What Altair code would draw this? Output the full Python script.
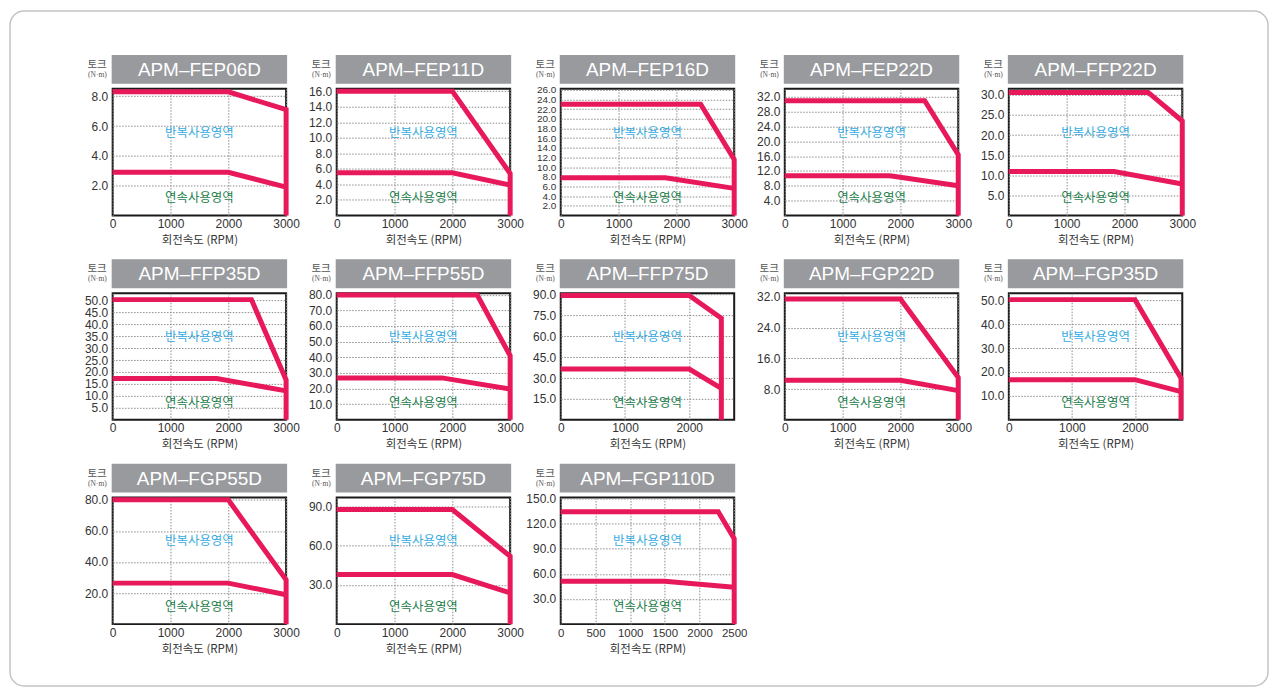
import altair as alt
import pandas as pd

MODELS = ["APM–FEP06D", "APM–FEP11D", "APM–FEP16D", "APM–FEP22D", "APM–FFP22D",
          "APM–FFP35D", "APM–FFP55D", "APM–FFP75D", "APM–FGP22D", "APM–FGP35D",
          "APM–FGP55D", "APM–FGP75D", "APM–FGP110D"]
X_MAX = [3000, 3000, 3000, 3000, 3000, 3000, 3000, 2700, 3000, 2750, 3000, 3000, 2500]
T3 = [0, 1000, 2000, 3000]
T2 = [0, 1000, 2000]
X_TICKS = [T3, T3, T3, T3, T3, T3, T3, T2, T3, T2, T3, T3, [0, 500, 1000, 1500, 2000, 2500]]
Y_MAX = [8.5, 16.3, 26.2, 34.2, 31.5, 53, 81, 91, 33, 53, 81.5, 97, 151]
Y_TICKS = [
    [2, 4, 6, 8],
    [2, 4, 6, 8, 10, 12, 14, 16],
    [2, 4, 6, 8, 10, 12, 14, 16, 18, 20, 22, 24, 26],
    [4, 8, 12, 16, 20, 24, 28, 32],
    [5, 10, 15, 20, 25, 30],
    [5, 10, 15, 20, 25, 30, 35, 40, 45, 50],
    [10, 20, 30, 40, 50, 60, 70, 80],
    [15, 30, 45, 60, 75, 90],
    [8, 16, 24, 32],
    [10, 20, 30, 40, 50],
    [20, 40, 60, 80],
    [30, 60, 90],
    [30, 60, 90, 120, 150],
]
MAX_SPEED = [3000, 3000, 3000, 3000, 3000, 3000, 3000, 2500, 3000, 2730, 3000, 3000, 2500]
PEAK_TORQUE = [8.3, 16.0, 23.0, 31.0, 30.6, 50.3, 79.8, 89.4, 31.5, 50.3, 80.0, 87.8, 134]
PEAK_KNEE = [2000, 2000, 2420, 2420, 2410, 2400, 2430, 2000, 2000, 2000, 2000, 2000, 2270]
PEAK_END = [7.1, 5.4, 11.6, 16.4, 23.5, 16.6, 41, 73, 11, 17.4, 28.5, 52, 102]
CONT_TORQUE = [2.9, 5.5, 7.8, 10.7, 10.9, 17.3, 26.8, 36.5, 10.3, 16.8, 26.4, 38, 51.2]
CONT_KNEE = [2000, 2000, 1810, 1820, 1820, 1800, 1820, 2000, 2000, 2000, 2000, 2000, 1500]
CONT_END = [1.9, 3.9, 5.6, 8.0, 7.8, 12.1, 19.6, 22.5, 7.6, 11.8, 18.9, 24, 44]

X_TITLE = "회전속도 (RPM)"
UNIT_1 = "토크"
UNIT_2 = "(N·m)"
ZONE_PEAK = "반복사용영역"
ZONE_CONT = "연속사용영역"

PINK = "#E8195B"
GRAY = "#989A9E"
BLUE = "#36ACE2"
GREEN = "#24804E"
KR = "Noto Sans CJK KR"
LAT = "Liberation Sans"

W, H = 174, 127


def one(txt):
    return pd.DataFrame({"t": [txt]})


def panel(i):
    ms = MAX_SPEED[i]
    rows = [
        {"curve": "peak", "o": 0, "rpm": 0, "torque": PEAK_TORQUE[i]},
        {"curve": "peak", "o": 1, "rpm": PEAK_KNEE[i], "torque": PEAK_TORQUE[i]},
        {"curve": "peak", "o": 2, "rpm": ms, "torque": PEAK_END[i]},
        {"curve": "peak", "o": 3, "rpm": ms, "torque": 0},
        {"curve": "cont", "o": 0, "rpm": 0, "torque": CONT_TORQUE[i]},
        {"curve": "cont", "o": 1, "rpm": CONT_KNEE[i], "torque": CONT_TORQUE[i]},
        {"curve": "cont", "o": 2, "rpm": ms, "torque": CONT_END[i]},
    ]
    df = pd.DataFrame(rows)
    ylab = 10 if len(Y_TICKS[i]) > 10 else 12
    xlab = 11.5 if len(X_TICKS[i]) > 4 else 12
    lines = alt.Chart(df).mark_line(
        color=PINK, strokeWidth=5, strokeJoin="miter", strokeCap="butt"
    ).encode(
        x=alt.X("rpm:Q", scale=alt.Scale(domain=[0, X_MAX[i]], nice=False),
                axis=alt.Axis(values=X_TICKS[i], format="d", title=X_TITLE,
                              labelFlush=False, labelOverlap=False, ticks=False, domain=False,
                              grid=True, gridDash=[1.5, 1.5], gridColor="#8c8c8c", gridWidth=1,
                              labelFont=LAT, labelFontSize=xlab, labelColor="#333333", labelPadding=3,
                              titleFont=KR, titleFontSize=11.5, titleFontWeight="normal",
                              titleColor="#333333", titlePadding=5)),
        y=alt.Y("torque:Q", scale=alt.Scale(domain=[0, Y_MAX[i]], nice=False),
                axis=alt.Axis(values=Y_TICKS[i], format=".1f", title=None,
                              labelOverlap=False, ticks=False, domain=False,
                              grid=True, gridDash=[1.5, 1.5], gridColor="#8c8c8c", gridWidth=1,
                              labelFont=LAT, labelFontSize=ylab, labelColor="#333333", labelPadding=5)),
        detail="curve:N",
        order="o:Q",
    )
    box = alt.Chart(one(MODELS[i])).mark_rect(color=GRAY).encode(
        x=alt.value(-1), x2=alt.value(W + 1), y=alt.value(-34), y2=alt.value(-5))
    name = alt.Chart(one(MODELS[i])).mark_text(
        color="white", font=LAT, fontSize=19, align="center", baseline="middle"
    ).encode(x=alt.value(W / 2), y=alt.value(-19), text="t:N")
    u1 = alt.Chart(one(UNIT_1)).mark_text(
        color="#555555", font=KR, fontSize=10.5, align="right", baseline="middle"
    ).encode(x=alt.value(-6), y=alt.value(-24), text="t:N")
    u2 = alt.Chart(one(UNIT_2)).mark_text(
        color="#555555", font="Liberation Serif", fontSize=7.5, align="right", baseline="middle"
    ).encode(x=alt.value(-6), y=alt.value(-14), text="t:N")
    z1 = alt.Chart(one(ZONE_PEAK)).mark_text(
        color=BLUE, font=KR, fontSize=12.5, align="center", baseline="middle"
    ).encode(x=alt.value(W / 2), y=alt.value(44), text="t:N")
    z2 = alt.Chart(one(ZONE_CONT)).mark_text(
        color=GREEN, font=KR, fontSize=12.5, align="center", baseline="middle"
    ).encode(x=alt.value(W / 2), y=alt.value(110), text="t:N")
    layers = [box, name, u1, u2, z1, z2, lines]
    if i == 0:
        frame = alt.Chart(one("")).mark_rect(
            fillOpacity=0, stroke="#C4C4C4", strokeWidth=1.5, cornerRadius=14
        ).encode(x=alt.value(-103), x2=alt.value(1159), y=alt.value(-78), y2=alt.value(599))
        layers.insert(0, frame)
    return alt.layer(*layers).properties(width=W, height=H)


panels = [panel(i) for i in range(len(MODELS))]

chart = alt.concat(
    *panels, columns=5, spacing={"row": 78, "column": 50.75}, bounds="flush"
).properties(padding=0).configure_view(stroke="#1a1a1a", strokeWidth=2)

chart.save("out.html", embed_options={"renderer": "svg", "actions": False})
